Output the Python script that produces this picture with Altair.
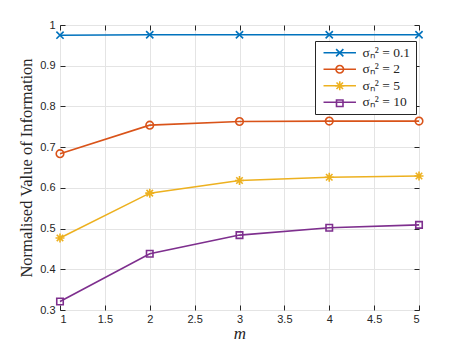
import altair as alt
import pandas as pd

m_values = [1, 2, 3, 4, 5]
series_names = ["σₙ² = 0.1", "σₙ² = 2", "σₙ² = 5", "σₙ² = 10"]
vals_01 = [0.975, 0.976, 0.976, 0.976, 0.976]
vals_2 = [0.684, 0.754, 0.763, 0.764, 0.764]
vals_5 = [0.477, 0.587, 0.618, 0.626, 0.629]
vals_10 = [0.321, 0.438, 0.484, 0.502, 0.509]
colors = ["#0072BD", "#D95319", "#EDB120", "#7E2F8E"]
x_ticks = [1, 1.5, 2, 2.5, 3, 3.5, 4, 4.5, 5]
y_ticks = [0.3, 0.4, 0.5, 0.6, 0.7, 0.8, 0.9, 1.0]

marker_paths = [
    "M-1,-1L1,1M-1,1L1,-1",
    "M1.05,0A1.05,1.05 0 1,1 -1.05,0A1.05,1.05 0 1,1 1.05,0Z",
    "M-1.25,0L1.25,0M0,-1.25L0,1.25M-0.9,-0.9L0.9,0.9M-0.9,0.9L0.9,-0.9",
    "M-0.9,-0.9L0.9,-0.9L0.9,0.9L-0.9,0.9Z",
]
legend_line_path = "M-4.5,0L4.5,0"

rows = []
for name, vals in zip(series_names, [vals_01, vals_2, vals_5, vals_10]):
    for m, v in zip(m_values, vals):
        rows.append({"m": m, "v": v, "s": name})
df = pd.DataFrame(rows)

xscale = alt.Scale(domain=[1, 5], nice=False)
yscale = alt.Scale(domain=[0.3, 1.0], nice=False)
cscale = alt.Scale(domain=series_names, range=colors)
# extra unused domain entry keeps the line legend separate from the marker legend
stroke_scale = alt.Scale(domain=series_names + ["_"], range=colors + ["#ffffff"])
sscale = alt.Scale(domain=series_names, range=marker_paths)

tick_font = "Liberation Sans"
LX, LY = 255, 16
MSIZE = 52
SYM_OFF = 13
LAB_OFF = 16
LFONT = 13.5
RPAD = 1.5


def xaxis(orient, labels):
    return alt.Axis(
        orient=orient, values=x_ticks, format="~g", title="m" if labels else None,
        labels=labels, offset=-5, tickSize=5, labelPadding=3, domain=False,
        grid=labels, gridColor="#e4e4e4", tickColor="#262626", labelColor="#262626",
        labelFont=tick_font, labelFontSize=11, titleFont="Liberation Serif",
        titleFontStyle="italic", titleFontWeight="normal", titleFontSize=17,
        titleColor="#262626", titlePadding=1,
    )


def yaxis(orient, labels):
    return alt.Axis(
        orient=orient, values=y_ticks, format="~g",
        title="Normalised Value of Information" if labels else None,
        labels=labels, offset=-5, tickSize=5, labelPadding=5, domain=False,
        grid=labels, gridColor="#e4e4e4", tickColor="#262626", labelColor="#262626",
        labelFont=tick_font, labelFontSize=11, titleFont="Liberation Serif",
        titleFontWeight="normal", titleFontSize=16.5, titleColor="#262626", titlePadding=5,
    )


base = alt.Chart(df)

lines = base.mark_line(strokeWidth=1.6).encode(
    x=alt.X("m:Q", scale=xscale, axis=xaxis("bottom", True)),
    y=alt.Y("v:Q", scale=yscale, axis=yaxis("left", True)),
    stroke=alt.Stroke("s:N", scale=stroke_scale, legend=alt.Legend(
        title=None, orient="none", legendX=LX, legendY=LY, values=series_names,
        labelFont="Liberation Serif", labelFontSize=LFONT, labelColor="#262626",
        symbolType=legend_line_path, symbolSize=MSIZE, symbolStrokeWidth=1.6,
        symbolOffset=SYM_OFF, labelOffset=LAB_OFF, rowPadding=RPAD, padding=5,
        strokeColor="#262626", fillColor="white", zindex=0,
    )),
    detail="s:N",
)

points = base.mark_point(filled=False, size=MSIZE, strokeWidth=1.6, opacity=1).encode(
    x=alt.X("m:Q", scale=xscale, axis=xaxis("top", False)),
    y=alt.Y("v:Q", scale=yscale, axis=yaxis("right", False)),
    color=alt.Color("s:N", scale=cscale, legend=alt.Legend(
        title=None, orient="none", legendX=LX, legendY=LY,
        labelFont="Liberation Serif", labelFontSize=LFONT, labelOpacity=0,
        symbolSize=MSIZE, symbolStrokeWidth=1.6,
        symbolOffset=SYM_OFF, labelOffset=LAB_OFF, rowPadding=RPAD, padding=5, zindex=1,
    )),
    shape=alt.Shape("s:N", scale=sscale),
)

chart = alt.layer(lines, points).resolve_axis(x="independent", y="independent").properties(
    width=359, height=285,
    autosize=alt.AutoSizeParams(type="none"),
    padding={"left": 52, "top": 17, "right": 36, "bottom": 38},
).configure_view(stroke="#262626", strokeWidth=1)

chart.save("out.html", embed_options={"renderer": "svg", "actions": False})
